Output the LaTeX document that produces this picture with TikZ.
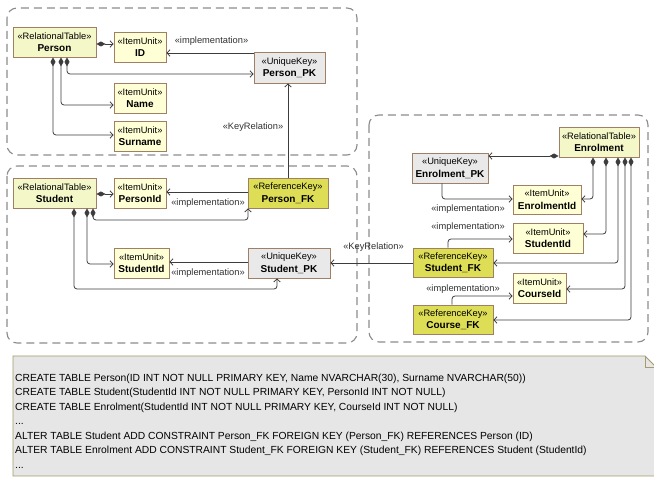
\documentclass[tikz,border=0pt]{standalone}
\usepackage{fontspec}
\setmainfont{Liberation Sans}
\usetikzlibrary{arrows.meta}

\definecolor{tblfill}{RGB}{244,247,200}
\definecolor{itemfill}{RGB}{255,255,214}
\definecolor{ukeyfill}{RGB}{233,233,233}
\definecolor{rkeyfill}{RGB}{222,222,86}
\definecolor{boxline}{RGB}{160,128,100}
\definecolor{linkc}{RGB}{60,60,60}
\definecolor{lblc}{RGB}{50,50,50}
\definecolor{pkgc}{RGB}{140,140,140}
\definecolor{notefill}{RGB}{230,230,230}
\definecolor{noteline}{RGB}{165,155,110}

% element name inside a box
\newcommand{\elname}[1]{{\fontsize{10}{12.5}\selectfont\bfseries #1}}

\begin{document}
\begin{tikzpicture}[x=1pt,y=-1pt,
  box/.style={draw=boxline, line width=0.9pt, inner sep=0pt, align=center,
    font=\fontsize{9.3}{12.5}\selectfont, text=black},
  tbl/.style={box, fill=tblfill},
  item/.style={box, fill=itemfill},
  ukey/.style={box, fill=ukeyfill},
  rkey/.style={box, fill=rkeyfill},
  lnk/.style={draw=linkc, line width=0.8pt, rounded corners=3pt},
  comp/.style={lnk, {Diamond[length=9pt,width=5pt]}-{Straight Barb[length=3pt,width=6.5pt]}},
  impl/.style={lnk, -{Straight Barb[length=3pt,width=6.5pt]}},
  lbl/.style={font=\fontsize{9.3}{11}\selectfont, text=lblc, inner sep=0pt},
  pkg/.style={draw=pkgc, line width=1.1pt, dash pattern=on 8pt off 5pt, rounded corners=10pt}
]
\useasboundingbox (0,0) rectangle (654,478);
\fill[white] (0,0) rectangle (654,478);

% packages
\draw[pkg] (7,8) rectangle (357,155);
\draw[pkg] (7,166) rectangle (357,343);
\draw[pkg] (369,115) rectangle (648,342);

% Person package
\node[tbl, minimum width=83pt, minimum height=30pt] (person) at (54.5,42) {«RelationalTable»\\\elname{Person}};
\node[item, minimum width=52pt, minimum height=30pt] (id) at (140,47) {«ItemUnit»\\\elname{ID}};
\node[ukey, minimum width=71pt, minimum height=31pt] (ppk) at (289.5,67.5) {«UniqueKey»\\\elname{Person\_PK}};
\node[item, minimum width=52pt, minimum height=30pt] (name) at (140,98) {«ItemUnit»\\\elname{Name}};
\node[item, minimum width=52pt, minimum height=30pt] (surname) at (140,136) {«ItemUnit»\\\elname{Surname}};

% Student package
\node[tbl, minimum width=83pt, minimum height=30pt] (student) at (54.5,193) {«RelationalTable»\\\elname{Student}};
\node[item, minimum width=52pt, minimum height=30pt] (personid) at (140,193) {«ItemUnit»\\\elname{PersonId}};
\node[rkey, minimum width=80pt, minimum height=30pt] (pfk) at (288,193) {«ReferenceKey»\\\elname{Person\_FK}};
\node[item, minimum width=55pt, minimum height=30pt] (sid) at (141.5,263) {«ItemUnit»\\\elname{StudentId}};
\node[ukey, minimum width=82pt, minimum height=30pt] (spk) at (289,263) {«UniqueKey»\\\elname{Student\_PK}};

% Enrolment package
\node[tbl, minimum width=80pt, minimum height=30pt] (enrol) at (599,142) {«RelationalTable»\\\elname{Enrolment}};
\node[ukey, minimum width=76pt, minimum height=30pt] (epk) at (450,168) {«UniqueKey»\\\elname{Enrolment\_PK}};
\node[item, minimum width=68pt, minimum height=29pt] (eid) at (547,199.5) {«ItemUnit»\\\elname{EnrolmentId}};
\node[item, minimum width=70pt, minimum height=30pt] (esid) at (548,238) {«ItemUnit»\\\elname{StudentId}};
\node[rkey, minimum width=80pt, minimum height=29pt] (sfk) at (453,262.5) {«ReferenceKey»\\\elname{Student\_FK}};
\node[item, minimum width=53pt, minimum height=30pt] (cid) at (539.5,288) {«ItemUnit»\\\elname{CourseId}};
\node[rkey, minimum width=80pt, minimum height=29pt] (cfk) at (453,319.5) {«ReferenceKey»\\\elname{Course\_FK}};

% Person connectors
\draw[comp] (person.east |- 0,44) -- (id.west |- 0,44);
\draw[comp] (person.south -| 67,0) |- (ppk.west |- 0,74);
\draw[comp] (person.south -| 61,0) |- (name.west |- 0,105);
\draw[comp] (person.south -| 53,0) |- (surname.west |- 0,135);
\draw[impl] (ppk.west |- 0,53) -- (id.east |- 0,53);
\node[lbl] (l1) at (211.5,41) {«implementation»};
\draw[impl] (pfk.north -| 288,0) -- (ppk.south -| 288,0);
\node[lbl] (l2) at (253,127) {«KeyRelation»};

% Student connectors
\draw[comp] (student.east |- 0,194) -- (personid.west |- 0,194);
\draw[impl] (pfk.west |- 0,192) -- (personid.east |- 0,192);
\node[lbl] (l3) at (208,203) {«implementation»};
\draw[comp] (student.south -| 93,0) |- (248,220) -- (pfk.south -| 248,0);
\draw[comp] (student.south -| 87,0) |- (sid.west |- 0,264);
\draw[comp] (student.south -| 74,0) |- (277,289) -- (spk.south -| 277,0);
\draw[impl] (spk.west |- 0,262) -- (sid.east |- 0,262);
\node[lbl] (l4) at (208,273) {«implementation»};
\draw[impl] (sfk.west |- 0,263) -- (spk.east |- 0,263);
\node[lbl] (l5) at (373.5,247) {«KeyRelation»};

% Enrolment connectors
\draw[comp] (enrol.west |- 0,156) -- (epk.east |- 0,156);
\draw[comp] (enrol.south -| 593,0) |- (eid.east |- 0,199);
\draw[comp] (enrol.south -| 606,0) |- (esid.east |- 0,234);
\draw[comp] (enrol.south -| 618,0) |- (sfk.east |- 0,263);
\draw[comp] (enrol.south -| 625,0) |- (cid.east |- 0,289);
\draw[comp] (enrol.south -| 631,0) |- (cfk.east |- 0,320);
\draw[impl] (epk.south -| 442,0) |- (eid.west |- 0,199);
\node[lbl] (l6) at (468,209) {«implementation»};
\draw[impl] (sfk.north -| 448,0) |- (esid.west |- 0,239);
\node[lbl] (l7) at (468,227.5) {«implementation»};
\draw[impl] (cfk.north -| 452,0) |- (cid.west |- 0,296);
\node[lbl] (l8) at (463,289) {«implementation»};

% SQL note
\draw[draw=noteline, fill=notefill, line width=0.9pt]
  (13,356) -- (645,356) -- (656,367) -- (656,476) -- (13,476) -- cycle;
\draw[draw=noteline, line width=0.9pt] (645,356) -- (645,367) -- (656,367);
\node[anchor=north west, inner sep=0pt, align=left, text=black,
  font=\fontsize{10.3}{14.5}\selectfont] (sql) at (15,373.5) {%
CREATE TABLE Person(ID INT NOT NULL PRIMARY KEY, Name NVARCHAR(30), Surname NVARCHAR(50))\\
CREATE TABLE Student(StudentId INT NOT NULL PRIMARY KEY, PersonId INT NOT NULL)\\
CREATE TABLE Enrolment(StudentId INT NOT NULL PRIMARY KEY, CourseId INT NOT NULL)\\
...\\
ALTER TABLE Student ADD CONSTRAINT Person\_FK FOREIGN KEY (Person\_FK) REFERENCES Person (ID)\\
ALTER TABLE Enrolment ADD CONSTRAINT Student\_FK FOREIGN KEY (Student\_FK) REFERENCES Student (StudentId)\\
...};
\end{tikzpicture}
\end{document}
